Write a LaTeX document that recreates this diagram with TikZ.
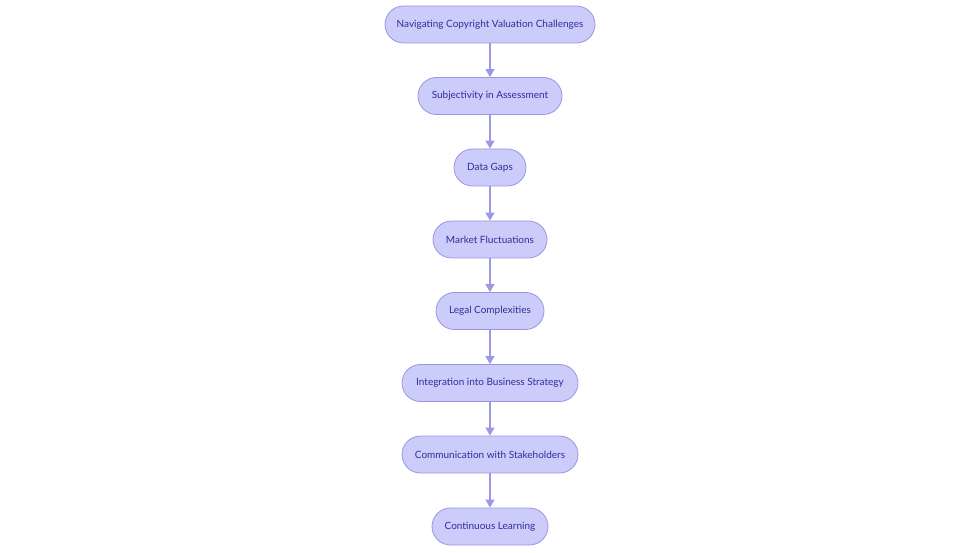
\documentclass[tikz,border=0pt]{standalone}
\usepackage{fontspec}
\setmainfont{Lato}
\usetikzlibrary{arrows.meta}
\definecolor{nodefill}{HTML}{CCCCFA}
\definecolor{nodeline}{HTML}{9A95E0}
\definecolor{nodetext}{HTML}{2E2E9A}
\definecolor{edgecol}{HTML}{9C98E4}
\tikzset{
  flowbox/.style={draw=nodeline, fill=nodefill, line width=0.8pt, rounded corners=18.5pt,
    minimum height=37pt, inner sep=0pt, text=nodetext, font=\fontsize{10}{12}\selectfont},
  flowedge/.style={draw=edgecol, line width=1.4pt, -{Triangle[length=8pt,width=9pt]}}
}
\begin{document}
\begin{tikzpicture}[x=1pt,y=-1pt]
\useasboundingbox (0,0) rectangle (980,553);
\node[flowbox, minimum width=210pt] (n1) at (490,24.5) {Navigating Copyright Valuation Challenges};
\node[flowbox, minimum width=144pt] (n2) at (490,96) {Subjectivity in Assessment};
\node[flowbox, minimum width=72pt] (n3) at (490,167.5) {Data Gaps};
\node[flowbox, minimum width=114pt] (n4) at (490,239.5) {Market Fluctuations};
\node[flowbox, minimum width=108pt] (n5) at (490,311) {Legal Complexities};
\node[flowbox, minimum width=176pt] (n6) at (490,383) {Integration into Business Strategy};
\node[flowbox, minimum width=176pt] (n7) at (490,454.5) {Communication with Stakeholders};
\node[flowbox, minimum width=116pt] (n8) at (490,526.5) {Continuous Learning};
\foreach \a/\b in {n1/n2,n2/n3,n3/n4,n4/n5,n5/n6,n6/n7,n7/n8}
  \draw[flowedge] (\a) -- (\b);
\end{tikzpicture}
\end{document}
